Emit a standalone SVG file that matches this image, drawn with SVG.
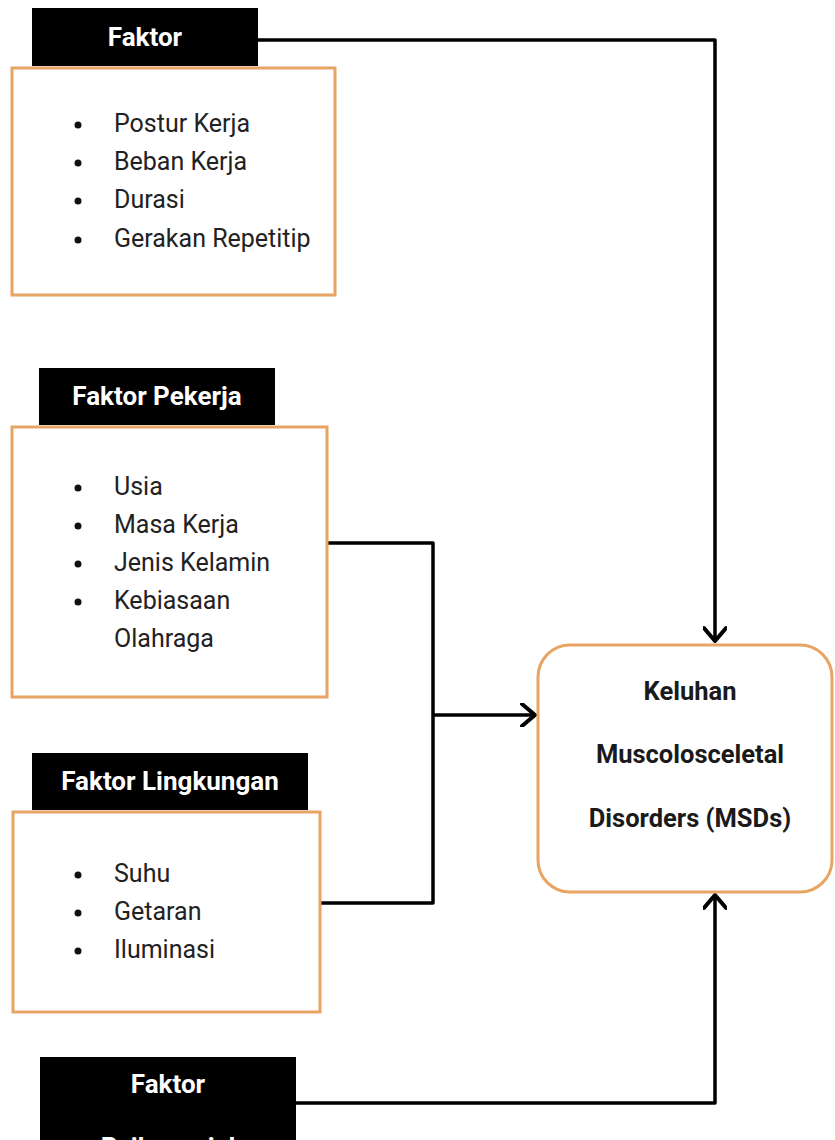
<svg xmlns="http://www.w3.org/2000/svg" width="835" height="1140" viewBox="0 0 835 1140">
  <style>
    .hdr { fill: #000; }
    .hdrt { font-family: Roboto, "Liberation Sans", sans-serif; font-weight: bold; font-size: 26px; fill: #fff; text-anchor: middle; }
    .box { fill: #fff; stroke: #E8A462; stroke-width: 3; }
    .item { font-family: Roboto, "Liberation Sans", sans-serif; font-size: 25px; fill: #222; }
    .dot { fill: #111; }
    .msdt { font-family: Roboto, "Liberation Sans", sans-serif; font-weight: bold; font-size: 25.5px; fill: #1a1a1a; text-anchor: middle; }
    .conn { fill: none; stroke: #000; stroke-width: 3.5; stroke-linejoin: round; }
  </style>
  <defs>
    <marker id="arr" viewBox="0 0 20 24" refX="18" refY="12" markerWidth="20" markerHeight="24" markerUnits="userSpaceOnUse" orient="auto">
      <path d="M5,1 L18,12 L5,23" fill="none" stroke="#000" stroke-width="4" stroke-linecap="round" stroke-linejoin="round"/>
    </marker>
  </defs>
  <rect width="835" height="1140" fill="#fff"/>

  <g id="connectors">
    <path class="conn" d="M258,40 H715 V641" marker-end="url(#arr)"/>
    <path class="conn" d="M327,543 H433 V903 H320"/>
    <path class="conn" d="M433,715 H535" marker-end="url(#arr)"/>
    <path class="conn" d="M296,1103 H715 V895" marker-end="url(#arr)"/>
  </g>

  <g id="faktor-pekerjaan">
    <rect class="box" x="12" y="68" width="323" height="227"/>
    <rect class="hdr" x="32" y="8" width="226" height="58"/>
    <text class="hdrt" x="145" y="46">Faktor</text>
    <circle class="dot" cx="78" cy="125" r="3.5"/>
    <circle class="dot" cx="78" cy="163" r="3.5"/>
    <circle class="dot" cx="78" cy="201" r="3.5"/>
    <circle class="dot" cx="78" cy="240" r="3.5"/>
    <text class="item" x="114" y="132">Postur Kerja</text>
    <text class="item" x="114" y="170">Beban Kerja</text>
    <text class="item" x="114" y="208">Durasi</text>
    <text class="item" x="114" y="247">Gerakan Repetitip</text>
  </g>

  <g id="faktor-pekerja">
    <rect class="box" x="12" y="427" width="315" height="270"/>
    <rect class="hdr" x="39" y="368" width="236" height="57"/>
    <text class="hdrt" x="157" y="405">Faktor Pekerja</text>
    <circle class="dot" cx="78" cy="488" r="3.5"/>
    <circle class="dot" cx="78" cy="526" r="3.5"/>
    <circle class="dot" cx="78" cy="564" r="3.5"/>
    <circle class="dot" cx="78" cy="602" r="3.5"/>
    <text class="item" x="114" y="495">Usia</text>
    <text class="item" x="114" y="533">Masa Kerja</text>
    <text class="item" x="114" y="571">Jenis Kelamin</text>
    <text class="item" x="114" y="609">Kebiasaan</text>
    <text class="item" x="114" y="647">Olahraga</text>
  </g>

  <g id="faktor-lingkungan">
    <rect class="box" x="13" y="812" width="307" height="200"/>
    <rect class="hdr" x="32" y="753" width="276" height="57"/>
    <text class="hdrt" x="170" y="790">Faktor Lingkungan</text>
    <circle class="dot" cx="78" cy="875" r="3.5"/>
    <circle class="dot" cx="78" cy="913" r="3.5"/>
    <circle class="dot" cx="78" cy="951" r="3.5"/>
    <text class="item" x="114" y="882">Suhu</text>
    <text class="item" x="114" y="920">Getaran</text>
    <text class="item" x="114" y="958">Iluminasi</text>
  </g>

  <g id="faktor-psikososial">
    <rect class="hdr" x="40" y="1057" width="256" height="90"/>
    <text class="hdrt" x="168" y="1093">Faktor</text>
    <text class="hdrt" x="168" y="1156">Psikososial</text>
  </g>

  <g id="msds">
    <rect class="box" x="538" y="645" width="294" height="247" rx="32" ry="32"/>
    <text class="msdt" x="690" y="700">Keluhan</text>
    <text class="msdt" x="690" y="763">Muscolosceletal</text>
    <text class="msdt" x="690" y="827">Disorders (MSDs)</text>
  </g>
</svg>
